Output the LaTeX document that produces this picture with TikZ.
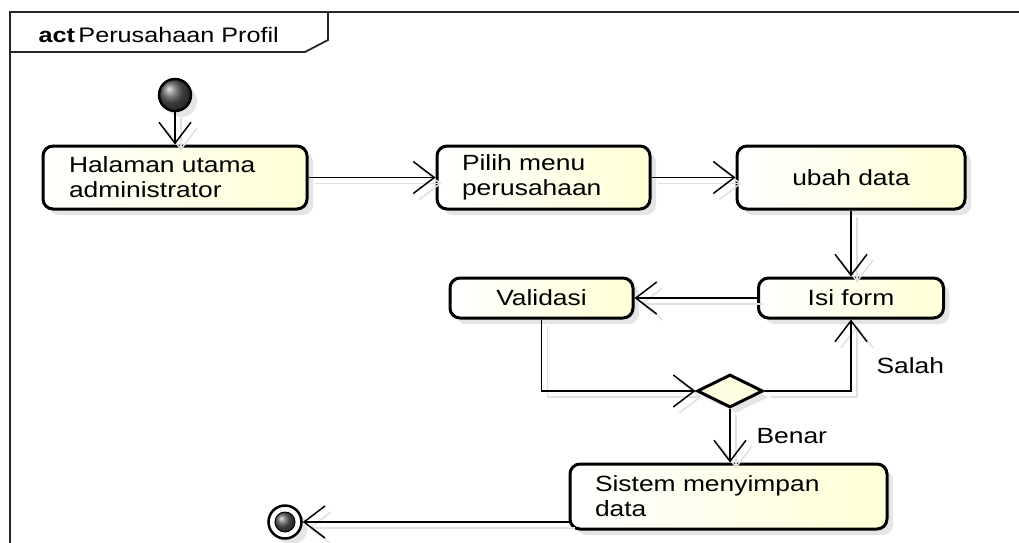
\documentclass[tikz,border=0pt]{standalone}
\usepackage{fontspec}
\setmainfont{Liberation Sans}[FakeStretch=1.2]
\usetikzlibrary{arrows.meta,shapes.geometric,shadows}
\begin{document}
\begin{tikzpicture}[x=1pt,y=-1pt,
  lbl/.style={font=\fontsize{22}{25}\selectfont},
  actbox/.style={draw=black, line width=3pt, rounded corners=10pt,
    left color=white, right color=yellow!16,
    drop shadow={shadow xshift=6pt,shadow yshift=-6pt,fill=black!20},
    font=\fontsize{22}{25}\selectfont, inner ysep=0pt},
  conn/.style={line width=1.5pt, -{Straight Barb[length=21pt,width=32pt]},
    preaction={draw=black!12, line width=1.5pt, transform canvas={shift={(6pt,-6pt)}}}},
  frameline/.style={line width=1.8pt, draw=black!85}]
\useasboundingbox (0,0) rectangle (1019,542);
\clip (0,0) rectangle (1019,542);
\fill[white] (0,0) rectangle (1019,542);
% frame
\draw[frameline] (1030,12) -- (10,12) -- (10,560);
\draw[frameline] (10,52) -- (305,52) -- (328,40) -- (328,12);
\node[anchor=base west, font=\fontsize{21}{24}\selectfont] (title) at (35,42) {\textbf{act}\,Perusahaan Profil};
% nodes
\node[circle, minimum size=32pt, inner sep=0pt, draw=black, line width=2.5pt, ball color=black!65,
  drop shadow={shadow xshift=6pt,shadow yshift=-6pt,fill=black!20}] (init) at (175,95) {};
\node[actbox, minimum height=63pt, text width=212pt, inner xsep=26pt, align=left] (hal) at (175,177.5) {Halaman utama\\administrator};
\node[actbox, minimum height=63pt, text width=163pt, inner xsep=25pt, align=left] (pilih) at (543.5,177.5) {Pilih menu\\perusahaan};
\node[actbox, minimum height=63pt, minimum width=228pt, align=center] (ubah) at (851,177.5) {ubah data};
\node[actbox, minimum height=40pt, minimum width=185pt, align=center] (isi) at (851,298) {Isi form};
\node[actbox, minimum height=40pt, minimum width=183pt, align=center] (val) at (541.5,298) {Validasi};
\node[diamond, aspect=2, minimum width=66pt, minimum height=33pt, inner sep=0pt, draw=black, line width=3pt,
  fill=yellow!12, drop shadow={shadow xshift=6pt,shadow yshift=-6pt,fill=black!20}] (dec) at (730,391) {};
\node[actbox, minimum height=65pt, text width=267pt, inner xsep=25pt, align=left] (sis) at (728.5,496.5) {Sistem menyimpan\\data};
\node[circle, minimum size=33pt, inner sep=0pt, draw=black, line width=2.5pt, fill=white,
  drop shadow={shadow xshift=6pt,shadow yshift=-6pt,fill=black!20}] (fin) at (285,522) {};
\node[circle, minimum size=20pt, inner sep=0pt, draw=black, line width=1pt, ball color=black!65] (fininner) at (285,522) {};
% connectors
\draw[conn] (init) -- (hal);
\draw[conn] (hal) -- (pilih);
\draw[conn] (pilih) -- (ubah);
\draw[conn] (ubah) -- (isi);
\draw[conn] (isi) -- (val);
\draw[conn] (val.south) |- (dec.west);
\draw[conn] (dec.east) -| (isi.south);
\draw[conn] (dec.south) -- (dec.south |- sis.north);
\draw[conn] (sis.west |- fin) -- (fin);
% labels
\node[lbl, anchor=base west] (salah) at (873,373) {Salah};
\node[lbl, anchor=base west] (benar) at (753,443) {Benar};
\end{tikzpicture}
\end{document}
